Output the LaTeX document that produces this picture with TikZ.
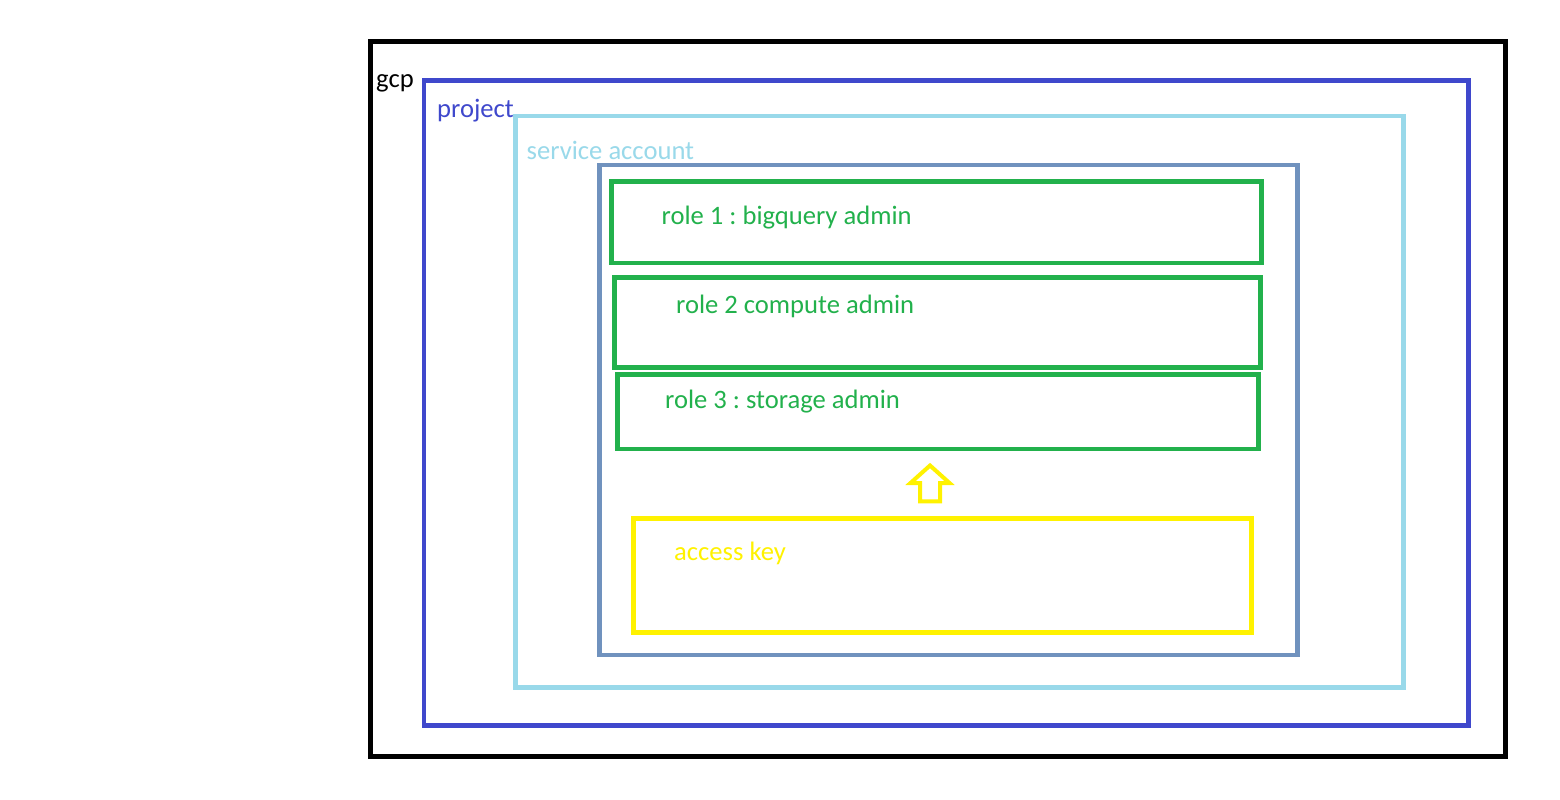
\documentclass[tikz,border=0pt]{standalone}
\usepackage{fontspec}
\setmainfont{Carlito}
\frenchspacing
\definecolor{cgcp}{HTML}{000000}
\definecolor{cproj}{HTML}{3F48CC}
\definecolor{csa}{HTML}{99D9EA}
\definecolor{csteel}{HTML}{7092BE}
\definecolor{crole}{HTML}{22B14C}
\definecolor{ckey}{HTML}{FFF200}
\begin{document}
\begin{tikzpicture}[x=1pt,y=-1pt,
  frame/.style={line width=4.6pt, line join=miter},
  lbl/.style={anchor=base west, inner sep=0pt, font=\fontsize{26.6}{31}\selectfont\frenchspacing}]
\useasboundingbox (0,0) rectangle (1560,800);
\fill[white] (0,0) rectangle (1560,800);
% frames
\draw[frame, draw=cgcp, line width=5pt] (370,41.7) rectangle (1505.3,756.5);
\draw[frame, draw=cproj] (424,80.5) rectangle (1468.5,725.3);
\draw[frame, draw=csa] (515.5,115.8) rectangle (1403.5,687.3);
\draw[frame, draw=csteel, line width=4.2pt] (599.5,165.3) rectangle (1297.5,655.2);
\draw[frame, draw=crole] (611.7,181.6) rectangle (1261.5,263.1);
\draw[frame, draw=crole] (614.5,277.5) rectangle (1260.3,367.5);
\draw[frame, draw=crole] (617.5,374.2) rectangle (1258.5,448.8);
\draw[frame, draw=ckey] (633.3,518.5) rectangle (1251.7,632.3);
% block arrow
\draw[draw=ckey, line width=4pt, line join=miter]
  (930,465.5) -- (949.5,483) -- (940,483) -- (940,501.3) -- (920,501.3) -- (920,483) -- (910.5,483) -- cycle;
% labels
\node[lbl, text=cgcp] (gcp) at (376,87.5) {gcp};
\node[lbl, text=cproj] (proj) at (437,117.5) {project};
\node[lbl, text=csa] (sa) at (526.5,159) {service account};
\node[lbl, text=crole] (r1) at (661.5,224) {role 1 : bigquery admin};
\node[lbl, text=crole] (r2) at (676,313.7) {role 2 compute admin};
\node[lbl, text=crole] (r3) at (665,408.7) {role 3 : storage admin};
\node[lbl, text=ckey] (key) at (674,560.7) {access key};
\end{tikzpicture}
\end{document}
